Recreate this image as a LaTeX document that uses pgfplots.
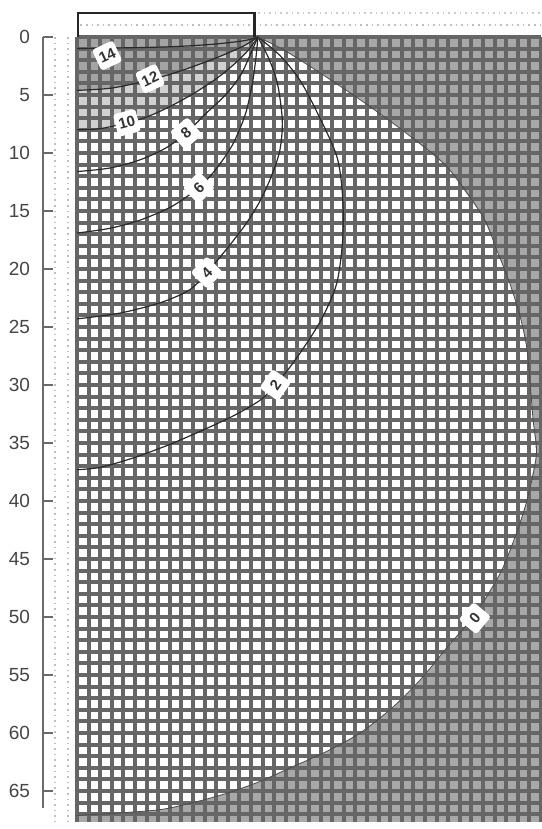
\documentclass[border=0pt]{standalone}
\usepackage{pgfplots}
\pgfplotsset{compat=1.18}
\usepackage{fontspec}
\setmainfont{Liberation Sans}
\definecolor{meshline}{HTML}{666666}
\definecolor{outgray}{HTML}{A8A8A8}
\definecolor{topgray}{HTML}{A4A4A4}
\definecolor{midgray}{HTML}{D0D0D0}
\definecolor{axisgray}{HTML}{6A6A6A}
\definecolor{labelgray}{HTML}{454545}
\definecolor{cline}{HTML}{2A2A2A}
\tikzset{lbl/.style={fill=white, rounded corners=1.5pt, inner sep=1.2pt, minimum size=11.5pt,
     font=\fontsize{7.5}{8}\selectfont\bfseries, text=black!80}}
\begin{document}
\begin{tikzpicture}
\path[use as bounding box] (-38.5pt,18.5pt) rectangle (232pt,-396pt);
% ---------------- mesh + shading ----------------
\begin{axis}[at={(0pt,0pt)}, anchor=north west, scale only axis,
  width=232pt, height=392.66pt,
  xmin=0, xmax=40, ymin=0, ymax=67.7, y dir=reverse,
  axis on top, xtick={0,...,40}, ytick={0,...,67},
  xticklabels={}, yticklabels={}, major tick length=0pt,
  grid=major, major grid style={line width=2.0pt, color=meshline},
  axis line style={draw=none}]
\addplot[fill=outgray, draw=none] coordinates {(0,0) (40,0) (40,67.7) (0,67.7)} -- cycle;
\addplot[fill=white, draw=none] coordinates {
(0,0) (15.6,0) (17.8,1.1) (20.5,2.8) (24.4,5.4) (28.4,8.3) (31.9,11.2) (35.0,15.5)
(36.2,18.4) (37.3,21.2) (38.2,24.1) (38.8,27.0) (39.3,32.8) (39.6,36.0) (38.8,39.9)
(37.8,43.0) (36.5,46.2) (34.3,49.8) (32.0,52.5) (29.6,55.4) (27.2,57.8) (24.4,60.0)
(21.5,61.6) (18.6,62.9) (15.7,64.2) (12.9,65.2) (10.0,66.0) (7.2,66.6) (3.5,66.9) (0,67.1)} -- cycle;
\addplot[fill=midgray, draw=none] coordinates {
(0,0) (15.6,0) (14.8,1.1) (13.6,2.3) (12,3.6) (10,4.9) (8,6.0) (6,6.9) (4.3,7.4) (2,7.9) (0,8.0)} -- cycle;
\addplot[fill=topgray, draw=none] coordinates {
(0,0) (15.6,0) (14.3,0.8) (12,1.8) (9,2.9) (6.3,3.7) (3,4.4) (0,4.6)} -- cycle;
\end{axis}
% ---------------- contours, footing, labels ----------------
\begin{axis}[at={(0pt,0pt)}, anchor=north west, scale only axis,
  width=232pt, height=392.66pt,
  xmin=0, xmax=40, ymin=0, ymax=67.7, y dir=reverse,
  hide axis, clip=false]
% dotted background lines
\addplot[gray!50, dotted, line width=0.8pt] coordinates {(-1.9,0) (-1.9,67.7)};
\addplot[gray!50, dotted, line width=0.8pt] coordinates {(-0.78,0) (-0.78,67.7)};
\addplot[gray!50, dotted, line width=0.8pt] coordinates {(0.3,-1.03) (40,-1.03)};
\addplot[gray!40, dotted, line width=0.8pt] coordinates {(15.6,-2.07) (40,-2.07)};
% footing
\addplot[black!85, line width=1.1pt] coordinates {(0.1,0) (0.1,-2.1) (15.3,-2.1) (15.3,0)};
% contours
\addplot[cline, line width=0.6pt, smooth, tension=0.5] coordinates {(0,1.0) (3,0.95) (6,0.9) (9,0.8) (12,0.6) (14.5,0.3) (15.6,0)};
\addplot[cline, line width=0.6pt, smooth, tension=0.5] coordinates {(0,4.6) (3,4.4) (6.3,3.7) (9,2.9) (12,1.8) (14.3,0.8) (15.6,0)};
\addplot[cline, line width=0.6pt, smooth, tension=0.5] coordinates {(0,8.0) (2,7.9) (4.3,7.4) (6,6.9) (8,6.0) (10,4.9) (12,3.6) (13.6,2.3) (14.8,1.1) (15.6,0)};
\addplot[cline, line width=0.6pt, smooth, tension=0.5] coordinates {(0,11.6) (2.8,11.3) (5.4,10.6) (7.6,9.6) (9.4,8.3) (11.0,6.7) (12.8,5.0) (14.1,3.3) (14.9,1.6) (15.6,0)};
\addplot[cline, line width=0.6pt, smooth, tension=0.5] coordinates {(0,16.9) (2.8,16.5) (5.4,15.8) (8.0,14.7) (9.7,13.6) (10.5,13.0) (11.9,11.5) (13.4,9.3) (14.5,6.7) (15.1,4.1) (15.4,2.0) (15.6,0)};
\addplot[cline, line width=0.6pt, smooth, tension=0.5] coordinates {(0,24.3) (3.7,23.8) (7.2,22.9) (9.7,21.8) (11.2,20.3) (12.8,18.4) (14.5,16.2) (15.8,14.1) (16.8,11.9) (17.5,9.7) (17.7,7.2) (17.3,4.1) (16.6,2.0) (15.6,0)};
\addplot[cline, line width=0.6pt, smooth, tension=0.5] coordinates {(0,37.3) (2.0,37.1) (4.8,36.3) (7.8,35.2) (10.6,34.0) (13.4,32.7) (15.8,31.3) (17.1,30.0) (18.4,28.4) (19.8,26.4) (21.2,24.1) (22.4,21.2) (22.9,17.5) (22.9,13.8) (22.4,10.3) (20.7,6.5) (19.2,3.7) (17.5,1.6) (15.6,0)};
\addplot[gray!60!black, line width=0.4pt, smooth, tension=0.5] coordinates {
(15.6,0) (17.8,1.1) (20.5,2.8) (24.4,5.4) (28.4,8.3) (31.9,11.2) (35.0,15.5)
(36.2,18.4) (37.3,21.2) (38.2,24.1) (38.8,27.0) (39.3,32.8) (39.6,36.0) (38.8,39.9)
(37.8,43.0) (36.5,46.2) (34.3,49.8) (32.0,52.5) (29.6,55.4) (27.2,57.8) (24.4,60.0)
(21.5,61.6) (18.6,62.9) (15.7,64.2) (12.9,65.2) (10.0,66.0) (7.2,66.6) (3.5,66.9) (0,67.1)};
% labels
\node[lbl, rotate=25] at (axis cs:2.6,1.6) {14};
\node[lbl, rotate=25] at (axis cs:6.3,3.6) {12};
\node[lbl, rotate=15] at (axis cs:4.3,7.4) {10};
\node[lbl, rotate=40] at (axis cs:9.4,8.3) {8};
\node[lbl, rotate=45] at (axis cs:10.5,13.0) {6};
\node[lbl, rotate=45] at (axis cs:11.2,20.3) {4};
\node[lbl, rotate=55] at (axis cs:17.1,30.0) {2};
\node[lbl, rotate=50] at (axis cs:34.3,50.1) {0};
\end{axis}
% ---------------- y axis ----------------
\begin{axis}[at={(-17pt,0pt)}, anchor=north west, scale only axis,
  width=5pt, height=385.7pt,
  xmin=0, xmax=1, ymin=0, ymax=66.5, y dir=reverse,
  axis y line=left, hide x axis,
  axis line style={-, draw=axisgray, line width=1.4pt},
  ytick={0,5,...,65}, tick align=inside, major tick length=5pt,
  ytick style={draw=axisgray, line width=1.2pt},
  yticklabel style={font=\fontsize{9.5}{10}\selectfont, text=labelgray, xshift=-3pt},
  /pgf/number format/assume math mode=true]
\addplot[draw=none] coordinates {(0,0) (1,66.5)};
\end{axis}
\end{tikzpicture}
\end{document}
